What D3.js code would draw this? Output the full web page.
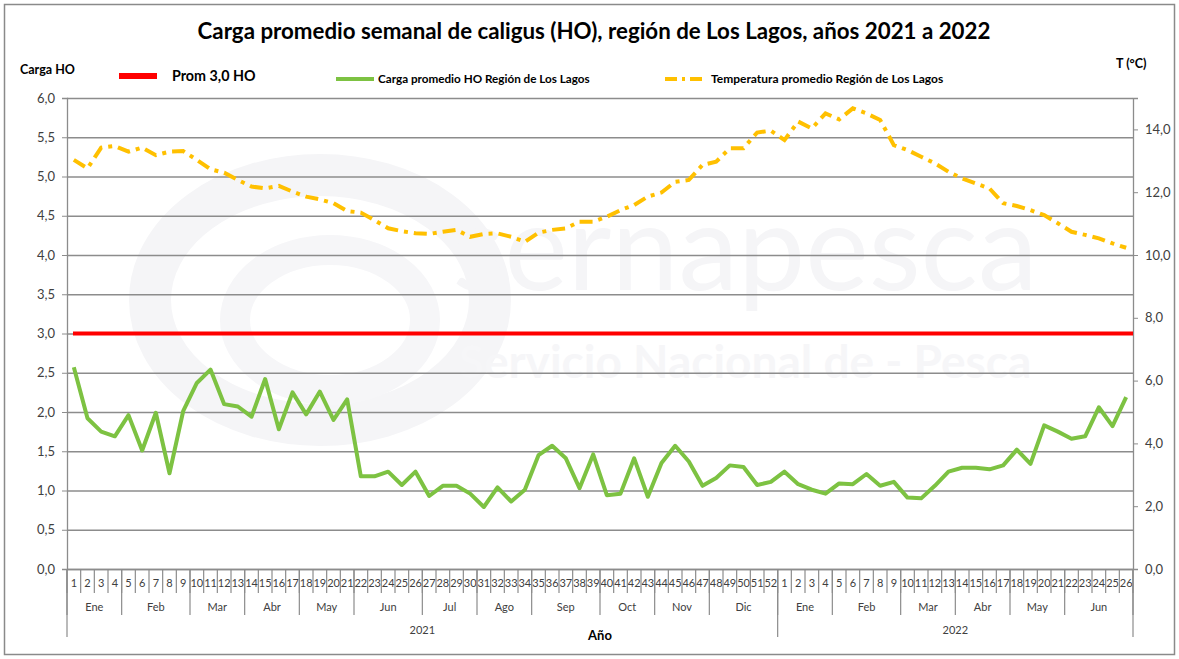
<!DOCTYPE html>
<html><head><meta charset="utf-8">
<script src="https://cdn.jsdelivr.net/npm/d3@7"></script>
<style>
html,body{margin:0;padding:0;background:#fff;}
svg{display:block;font-family:Lato,"Open Sans",Arial,sans-serif;}
</style></head>
<body>
<svg id="chart" width="1179" height="659"></svg>
<script>
// ---------------- DATA ----------------
const weekLabels = [1,2,3,4,5,6,7,8,9,10,11,12,13,14,15,16,17,18,19,20,21,22,23,24,25,26,27,28,29,30,31,32,33,34,35,36,37,38,39,40,41,42,43,44,45,46,47,48,49,50,51,52,
                    1,2,3,4,5,6,7,8,9,10,11,12,13,14,15,16,17,18,19,20,21,22,23,24,25,26];
const monthNames = ["Ene","Feb","Mar","Abr","May","Jun","Jul","Ago","Sep","Oct","Nov","Dic","Ene","Feb","Mar","Abr","May","Jun"];
const monthWeeks = [4,5,4,4,4,5,4,4,5,4,4,5,4,5,4,4,4,5];
const yearNames = ["2021","2022"];
const yearWeeks = [52,26];
const cargaHO = [2.57,1.92,1.75,1.69,1.96,1.51,1.99,1.22,2.01,2.37,2.54,2.10,2.07,1.94,2.42,1.78,2.25,1.97,2.26,1.90,2.16,1.18,1.18,1.24,1.07,1.24,0.93,1.06,1.06,0.96,0.79,1.04,0.86,1.01,1.45,1.57,1.41,1.03,1.46,0.94,0.96,1.41,0.92,1.35,1.57,1.37,1.06,1.16,1.32,1.30,1.07,1.11,
                 1.24,1.08,1.01,0.96,1.09,1.08,1.21,1.06,1.11,0.91,0.90,1.06,1.24,1.29,1.29,1.27,1.32,1.52,1.34,1.83,1.75,1.66,1.69,2.06,1.82,2.19];
const temperatura = [13.03,12.76,13.42,13.47,13.29,13.42,13.18,13.29,13.31,13.03,12.73,12.62,12.39,12.18,12.12,12.20,12.02,11.86,11.77,11.65,11.40,11.35,11.11,10.85,10.76,10.69,10.67,10.74,10.80,10.58,10.67,10.69,10.58,10.42,10.71,10.80,10.85,11.06,11.06,11.22,11.43,11.59,11.86,11.99,12.33,12.39,12.87,12.97,13.40,13.40,13.90,13.96,
                     13.66,14.25,14.03,14.51,14.32,14.67,14.51,14.30,13.50,13.34,13.13,12.92,12.65,12.44,12.28,12.12,11.65,11.56,11.43,11.27,11.01,10.74,10.64,10.53,10.37,10.23];
const promedio = 3.0;
const leftTicks = [0,0.5,1,1.5,2,2.5,3,3.5,4,4.5,5,5.5,6];
const rightTicks = [0,2,4,6,8,10,12,14];

// ---------------- LAYOUT ----------------
const svg = d3.select("#chart");
const L = 67, R = 1133, T = 98, B = 569;
const idx = d3.range(weekLabels.length);
const x = d3.scaleBand().domain(idx).range([L, R]).paddingInner(0).paddingOuter(0);
const xc = i => x(i) + x.bandwidth()/2;
const yL = d3.scaleLinear().domain([0,6]).range([B, T]);
const yR = d3.scaleLinear().domain([0,15]).range([B, T]);
const fmt = d => d.toFixed(1).replace(".", ",");
const gridCol = "#8c8c8c", txtCol = "#404040";

// outer border
svg.append("rect").attr("x",4.5).attr("y",4.5).attr("width",1170).attr("height",650)
  .attr("fill","#fff").attr("stroke","#8a8a8a").attr("stroke-width",1.5);

// faint watermark
const wm = svg.append("g");
wm.append("ellipse").attr("cx",320).attr("cy",300).attr("rx",170).attr("ry",125)
  .attr("fill","none").attr("stroke","#f5f5f7").attr("stroke-width",42);
wm.append("ellipse").attr("cx",330).attr("cy",320).attr("rx",95).attr("ry",70)
  .attr("fill","none").attr("stroke","#f6f6f8").attr("stroke-width",30);
wm.append("text").attr("x",745).attr("y",290).attr("text-anchor","middle")
  .attr("font-size",120).attr("fill","#f5f5f7").attr("font-family","Lato, sans-serif").text("sernapesca");
wm.append("text").attr("x",745).attr("y",378).attr("text-anchor","middle")
  .attr("font-size",46).attr("font-weight","bold").attr("fill","#f6f6f8").attr("font-family","Lato, sans-serif").text("Servicio Nacional de - Pesca");

// title
svg.append("text").attr("x",594).attr("y",39).attr("text-anchor","middle")
  .attr("font-size",22.3).attr("font-weight","bold").attr("fill","#000")
  .text("Carga promedio semanal de caligus (HO), región de Los Lagos, años 2021 a 2022");

// axis titles
svg.append("text").attr("x",20).attr("y",74).attr("font-size",12.5).attr("font-weight","bold").attr("fill","#000").text("Carga HO");
svg.append("text").attr("x",1116).attr("y",68).attr("font-size",12.5).attr("font-weight","bold").attr("fill","#000").text("T (°C)");
svg.append("text").attr("x",600).attr("y",640).attr("text-anchor","middle").attr("font-size",13).attr("font-weight","bold").attr("fill","#000").text("Año");

// legend
const lg = svg.append("g");
lg.append("line").attr("x1",119).attr("x2",157).attr("y1",76).attr("y2",76).attr("stroke","#ff0000").attr("stroke-width",6);
lg.append("text").attr("x",172).attr("y",81).attr("font-size",14.3).attr("font-weight","bold").attr("fill","#000").text("Prom 3,0 HO");
lg.append("line").attr("x1",336).attr("x2",374).attr("y1",79).attr("y2",79).attr("stroke","#7dc242").attr("stroke-width",4);
lg.append("text").attr("x",378).attr("y",83).attr("font-size",11.7).attr("font-weight","bold").attr("fill","#000").text("Carga promedio HO Región de Los Lagos");
lg.append("line").attr("x1",665).attr("x2",706).attr("y1",79).attr("y2",79).attr("stroke","#ffc000").attr("stroke-width",4).attr("stroke-dasharray","12,5,3,5");
lg.append("text").attr("x",711).attr("y",83).attr("font-size",12).attr("font-weight","bold").attr("fill","#000").text("Temperatura promedio Región de Los Lagos");

// gridlines
const grid = svg.append("g").attr("transform",`translate(${L},0)`)
  .call(d3.axisLeft(yL).tickValues(leftTicks).tickSize(-(R-L)).tickFormat(""));
grid.select(".domain").remove();
grid.selectAll("line").attr("stroke",gridCol).attr("stroke-width",1.3);

// left axis
const ax = svg.append("g").attr("transform",`translate(${L},0)`)
  .call(d3.axisLeft(yL).tickValues(leftTicks).tickSize(5).tickPadding(7).tickFormat(fmt));
ax.select(".domain").attr("stroke",gridCol).attr("stroke-width",1.3);
ax.selectAll("line").attr("stroke",gridCol);
ax.selectAll("text").attr("font-size",13).attr("fill",txtCol).attr("font-family","Lato, sans-serif");

// right axis
const axR = svg.append("g").attr("transform",`translate(${R},0)`)
  .call(d3.axisRight(yR).tickValues(rightTicks).tickSize(5).tickPadding(7).tickFormat(fmt));
axR.select(".domain").attr("stroke",gridCol).attr("stroke-width",1.3);
axR.selectAll("line").attr("stroke",gridCol);
axR.selectAll("text").attr("font-size",13).attr("fill",txtCol).attr("font-family","Lato, sans-serif");

// bottom axis (weeks)
const axB = svg.append("g").attr("transform",`translate(0,${B})`)
  .call(d3.axisBottom(x).tickSize(0).tickPadding(10).tickFormat(i => weekLabels[i]));
axB.select(".domain").attr("stroke",gridCol).attr("stroke-width",1.3);
axB.selectAll("text").attr("font-size",11).attr("fill",txtCol).attr("font-family","Lato, sans-serif");

// week separators
const sep = svg.append("g").attr("stroke",gridCol).attr("stroke-width",1.2);
idx.forEach(i => {
  sep.append("line").attr("x1",x(i)).attr("x2",x(i)).attr("y1",B).attr("y2",593);
});
sep.append("line").attr("x1",R).attr("x2",R).attr("y1",B).attr("y2",593);

// months
let cum = 0;
const mg = svg.append("g");
monthNames.forEach((m,k) => {
  const s = cum, e = cum + monthWeeks[k];
  const x0 = x(s), x1 = (e >= idx.length) ? R : x(e);
  mg.append("text").attr("x",(x0+x1)/2).attr("y",611).attr("text-anchor","middle")
    .attr("font-size",11).attr("fill",txtCol).text(m);
  mg.append("line").attr("x1",x0).attr("x2",x0).attr("y1",B).attr("y2",615).attr("stroke",gridCol).attr("stroke-width",1.2);
  cum = e;
});
mg.append("line").attr("x1",R).attr("x2",R).attr("y1",B).attr("y2",615).attr("stroke",gridCol).attr("stroke-width",1.2);

// years
cum = 0;
yearNames.forEach((yName,k) => {
  const s = cum, e = cum + yearWeeks[k];
  const x0 = x(s), x1 = (e >= idx.length) ? R : x(e);
  mg.append("text").attr("x",(x0+x1)/2).attr("y",634).attr("text-anchor","middle")
    .attr("font-size",11).attr("fill",txtCol).text(yName);
  mg.append("line").attr("x1",x0).attr("x2",x0).attr("y1",B).attr("y2",637).attr("stroke",gridCol).attr("stroke-width",1.2);
  cum = e;
});
mg.append("line").attr("x1",R).attr("x2",R).attr("y1",B).attr("y2",637).attr("stroke",gridCol).attr("stroke-width",1.2);

// series
const lineL = d3.line().x((d,i) => xc(i)).y(d => yL(d));
const lineR = d3.line().x((d,i) => xc(i)).y(d => yR(d));

svg.append("path").datum(temperatura).attr("d",lineR).attr("fill","none")
  .attr("stroke","#ffc000").attr("stroke-width",4).attr("stroke-dasharray","13,6,4,6");

svg.append("line").attr("x1",x(0)+6).attr("x2",R).attr("y1",yL(promedio)).attr("y2",yL(promedio))
  .attr("stroke","#ff0000").attr("stroke-width",4);

svg.append("path").datum(cargaHO).attr("d",lineL).attr("fill","none")
  .attr("stroke","#7dc242").attr("stroke-width",4).attr("stroke-linejoin","round");
</script>
</body></html>
